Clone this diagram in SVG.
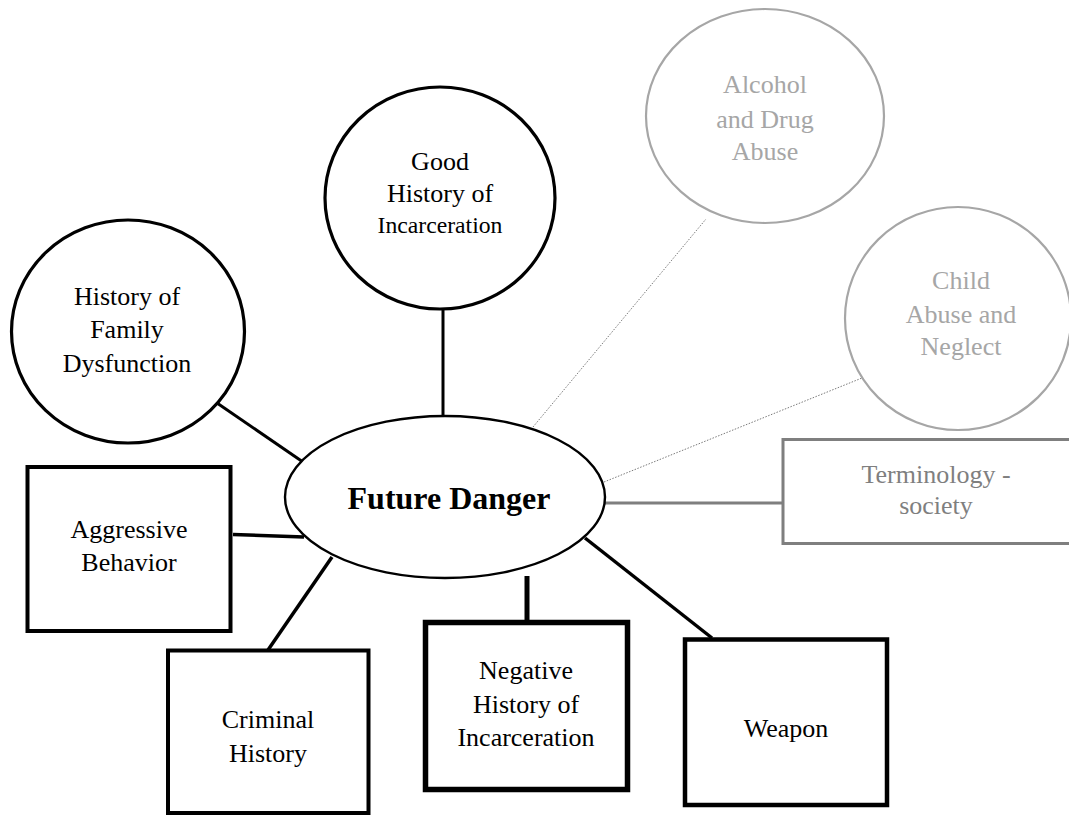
<svg xmlns="http://www.w3.org/2000/svg" width="1069" height="816" viewBox="0 0 1069 816">
  <style>
    text { font-family: "Liberation Serif", "Times New Roman", serif; font-size: 26px; text-anchor: middle; }
    .dark { fill: #000; }
    .grey { fill: #a6a6a6; }
    .mid { fill: #7f7f7f; }
    .shape { fill: #fff; stroke: #000; stroke-width: 3.2; }
    .shape-grey { fill: #fff; stroke: #a6a6a6; stroke-width: 2.2; }
    .link { stroke: #000; fill: none; }
    .dotted { stroke: #7a7a7a; stroke-width: 1; stroke-dasharray: 1.5 1.5; fill: none; }
  </style>
  <rect width="1069" height="816" fill="#fff"/>

  <!-- connectors -->
  <g id="connectors">
    <line class="link" x1="443" y1="309" x2="443" y2="415" stroke-width="3"/>
    <line class="link" x1="217" y1="403" x2="303" y2="462" stroke-width="3"/>
    <line class="link" x1="233" y1="534.5" x2="304" y2="537" stroke-width="3.5"/>
    <line class="link" x1="268" y1="650" x2="332" y2="557" stroke-width="3.5"/>
    <line class="link" x1="527" y1="576" x2="527" y2="622" stroke-width="5"/>
    <line class="link" x1="585" y1="538" x2="712" y2="638" stroke-width="3.5"/>
    <line x1="605" y1="503" x2="783" y2="503" stroke="#7f7f7f" stroke-width="3"/>
    <line class="dotted" x1="533" y1="427" x2="706" y2="219"/>
    <line class="dotted" x1="604" y1="482" x2="862" y2="378"/>
  </g>

  <!-- centre -->
  <g id="future-danger">
    <ellipse cx="445" cy="497" rx="160" ry="81" fill="#fff" stroke="#000" stroke-width="2.4"/>
    <text x="449" y="509" style="font-size:32px;font-weight:bold">Future Danger</text>
  </g>

  <g id="good-history">
    <ellipse class="shape" cx="440" cy="198" rx="115" ry="111"/>
    <text class="dark" x="440" y="170">Good</text>
    <text class="dark" x="440" y="202">History of</text>
    <text class="dark" x="440" y="233" style="font-size:23.7px">Incarceration</text>
  </g>

  <g id="family-dysfunction">
    <ellipse class="shape" cx="128" cy="331.5" rx="116.5" ry="111.5"/>
    <text class="dark" x="127" y="305">History of</text>
    <text class="dark" x="127" y="338">Family</text>
    <text class="dark" x="127" y="372">Dysfunction</text>
  </g>

  <g id="alcohol-drug">
    <ellipse class="shape-grey" cx="765" cy="116" rx="119" ry="107"/>
    <text class="grey" x="765" y="93">Alcohol</text>
    <text class="grey" x="765" y="128">and Drug</text>
    <text class="grey" x="765" y="160">Abuse</text>
  </g>

  <g id="child-abuse">
    <ellipse class="shape-grey" cx="958" cy="318.5" rx="113" ry="111.5"/>
    <text class="grey" x="961" y="289">Child</text>
    <text class="grey" x="961" y="323">Abuse and</text>
    <text class="grey" x="961" y="355">Neglect</text>
  </g>

  <g id="terminology">
    <rect x="783" y="439.5" width="300" height="104" fill="#fff" stroke="#7f7f7f" stroke-width="3"/>
    <text class="mid" x="936" y="483">Terminology -</text>
    <text class="mid" x="936" y="514">society</text>
  </g>

  <g id="aggressive">
    <rect class="shape" x="27.5" y="467" width="203" height="164" style="stroke-width:4"/>
    <text class="dark" x="129" y="538">Aggressive</text>
    <text class="dark" x="129" y="571">Behavior</text>
  </g>

  <g id="criminal">
    <rect class="shape" x="168" y="650.5" width="200.5" height="162.5" style="stroke-width:4"/>
    <text class="dark" x="268" y="728">Criminal</text>
    <text class="dark" x="268" y="762">History</text>
  </g>

  <g id="negative-history">
    <rect class="shape" x="425.5" y="622.5" width="202" height="167" style="stroke-width:5.5"/>
    <text class="dark" x="526" y="679">Negative</text>
    <text class="dark" x="526" y="713">History of</text>
    <text class="dark" x="526" y="746">Incarceration</text>
  </g>

  <g id="weapon">
    <rect class="shape" x="685" y="639.5" width="202" height="165.5" style="stroke-width:4.5"/>
    <text class="dark" x="786" y="737">Weapon</text>
  </g>
</svg>
